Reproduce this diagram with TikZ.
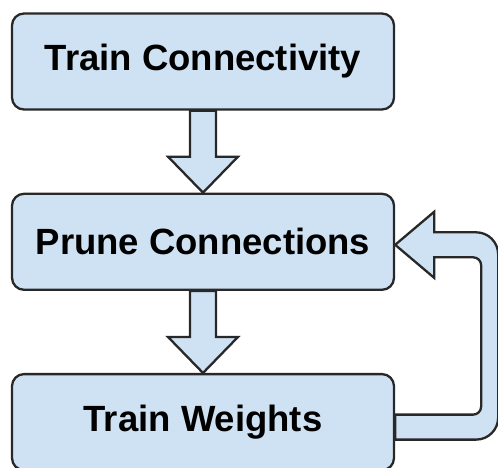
\documentclass[tikz,border=0pt]{standalone}
\usepackage{fontspec}
\setmainfont{Liberation Sans}
\usetikzlibrary{positioning, calc}
\definecolor{boxblue}{RGB}{207,226,243}
\definecolor{edgegray}{RGB}{40,40,40}

\begin{document}
\begin{tikzpicture}[node distance=82pt,
    stage/.style = {rectangle, rounded corners=12pt, minimum width=382pt, minimum height=96pt, text centered, draw=edgegray, line width=2.3pt, fill=boxblue, font=\fontsize{36.5}{42}\selectfont\bfseries},
    blockarrow/.style = {draw=edgegray, line width=2.3pt, fill=boxblue, line join=miter}]
    \useasboundingbox (-203pt,61.5pt) rectangle (295pt,-405.5pt);
    % Nodes
    \node (connectivity) [stage] {Train Connectivity};
    \node (prune) [stage, below=of connectivity] {Prune Connections};
    \node (weights) [stage, below=of prune] {Train Weights};

    % Arrows
    \draw [blockarrow] ($(connectivity.south)+(-13pt,0)$) -- ($(prune.north)+(-13pt,36pt)$) -- ($(prune.north)+(-35pt,36pt)$) -- (prune.north) -- ($(prune.north)+(35pt,36pt)$) -- ($(prune.north)+(13pt,36pt)$) -- ($(connectivity.south)+(13pt,0)$) -- cycle;
    \draw [blockarrow] ($(prune.south)+(-13pt,0)$) -- ($(weights.north)+(-13pt,36pt)$) -- ($(weights.north)+(-35pt,36pt)$) -- (weights.north) -- ($(weights.north)+(35pt,36pt)$) -- ($(weights.north)+(13pt,36pt)$) -- ($(prune.south)+(13pt,0)$) -- cycle;

    % Feedback loop
    \draw [blockarrow] ($(weights.east)+(0,7.5pt)$) [rounded corners=8pt] -- ($(weights.east)+(86pt,7.5pt)$) -- ($(prune.east)+(86pt,-15.5pt)$) [sharp corners] -- ($(prune.east)+(39pt,-15.5pt)$) -- ($(prune.east)+(39pt,-36pt)$) -- ($(prune.east)+(0,-3pt)$) -- ($(prune.east)+(39pt,30pt)$) -- ($(prune.east)+(39pt,9.5pt)$) [rounded corners=22pt] -- ($(prune.east)+(103pt,9.5pt)$) -- ($(weights.east)+(103pt,-17.5pt)$) [sharp corners] -- ($(weights.east)+(0,-17.5pt)$) -- cycle;
\end{tikzpicture}
\end{document}
